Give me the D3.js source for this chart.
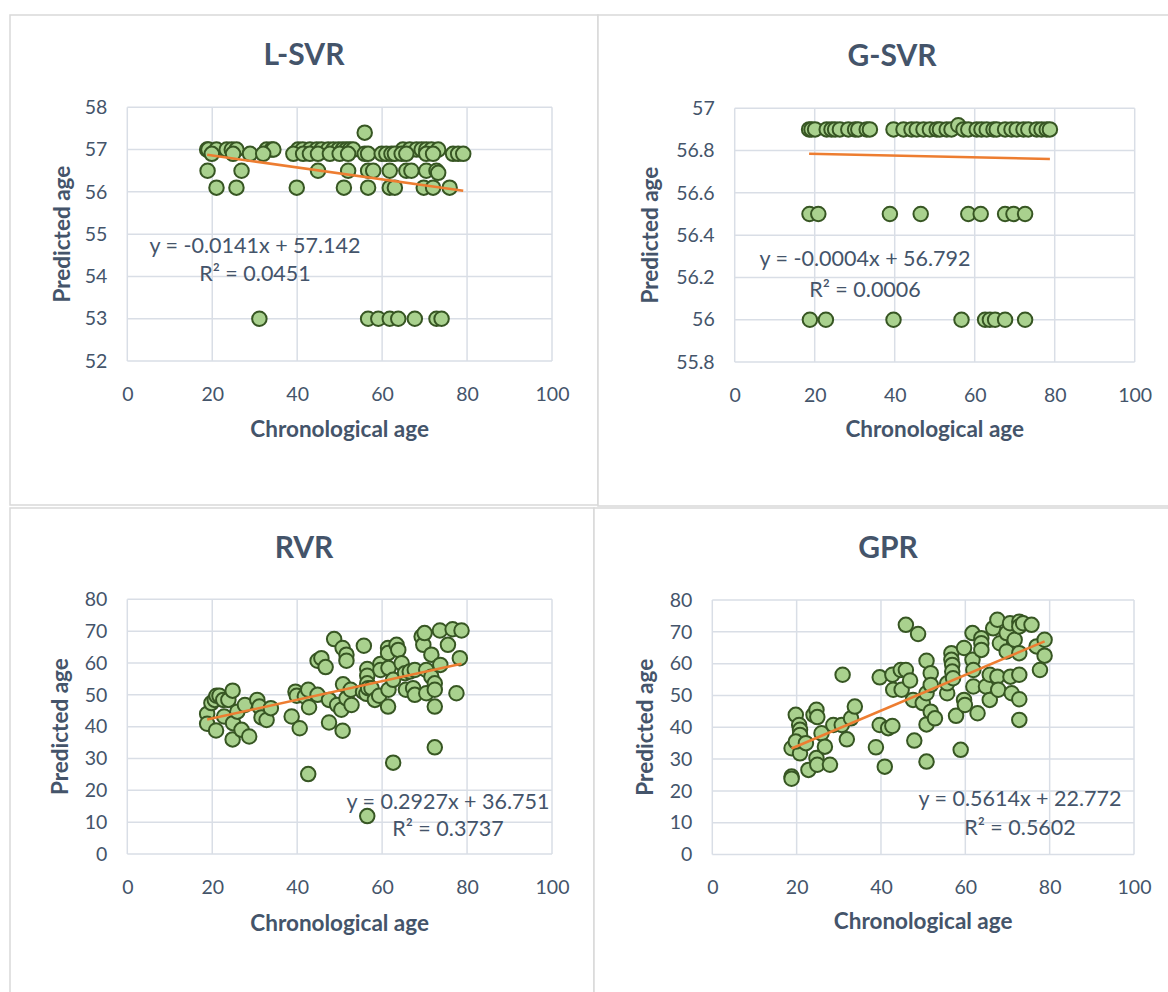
<!DOCTYPE html>
<html>
<head>
<meta charset="utf-8">
<script src="https://cdn.jsdelivr.net/npm/d3@7"></script>
<style>
  html, body { margin: 0; padding: 0; background: #ffffff; }
  svg { display: block; font-family: Lato, "Open Sans", sans-serif; }
</style>
</head>
<body>
<svg id="chart" width="1168" height="992"></svg>
<script>
// ---- data -------------------------------------------------------------
const xTicks = [0, 20, 40, 60, 80, 100];
const lsvrTicks = [52, 53, 54, 55, 56, 57, 58];
const gsvrTicks = [55.8, 56, 56.2, 56.4, 56.6, 56.8, 57];
const ageTicks = [0, 10, 20, 30, 40, 50, 60, 70, 80];

const modelNames = ["L-SVR", "G-SVR", "RVR", "GPR"];
const slopes = [-0.0141, -0.0004, 0.2927, 0.5614];
const intercepts = [57.142, 56.792, 36.751, 22.772];
const r2Values = ["0.0451", "0.0006", "0.3737", "0.5602"];

// L-SVR: chronological age / predicted age
const lsvrAge = [
  18.8, 19.1, 21.0, 23.4, 24.6, 25.7, 32.8, 34.0, 34.4, 40.2, 41.3, 43.0, 44.6, 45.7,
  47.3, 48.5, 49.7, 50.7, 51.6, 52.4, 53.2, 64.9, 66.5, 68.1, 69.3, 70.4, 71.6, 73.2,
  19.9, 24.9, 28.9, 32.0, 39.1, 41.4, 43.0, 44.9, 47.7, 50.0, 52.0, 55.9, 56.7, 59.9,
  61.0, 62.2, 63.0, 64.6, 65.7, 70.4, 72.0, 76.7, 77.9, 79.1,
  55.9,
  18.9, 26.9, 44.9, 52.0, 56.7, 57.9, 61.8, 65.7, 66.9, 70.4, 72.8, 73.2,
  21.0, 25.7, 39.9, 51.0, 56.7, 61.8, 63.0, 69.8, 72.0, 75.9,
  31.1, 56.7, 59.1, 61.8, 63.8, 67.7, 72.8, 74.0
];
const lsvrPred = [
  57.0, 57.0, 57.0, 57.0, 57.0, 57.0, 57.0, 57.0, 57.0, 57.0, 57.0, 57.0, 57.0, 57.0,
  57.0, 57.0, 57.0, 57.0, 57.0, 57.0, 57.0, 57.0, 57.0, 57.0, 57.0, 57.0, 57.0, 57.0,
  56.9, 56.9, 56.9, 56.9, 56.9, 56.9, 56.9, 56.9, 56.9, 56.9, 56.9, 56.9, 56.9, 56.9,
  56.9, 56.9, 56.9, 56.9, 56.9, 56.9, 56.9, 56.9, 56.9, 56.9,
  57.4,
  56.5, 56.5, 56.5, 56.5, 56.5, 56.5, 56.5, 56.5, 56.5, 56.5, 56.5, 56.45,
  56.1, 56.1, 56.1, 56.1, 56.1, 56.1, 56.1, 56.1, 56.1, 56.1,
  53.0, 53.0, 53.0, 53.0, 53.0, 53.0, 53.0, 53.0
];

// G-SVR
const gsvrAge = [
  18.6, 19.2, 20.1, 23.0, 24.2, 25.1, 26.3, 28.4, 30.1, 30.9, 33.0, 33.8, 39.7, 42.2,
  44.2, 45.5, 47.2, 48.8, 50.5, 51.3, 53.0, 54.2, 55.9, 57.2, 58.4, 60.5, 61.7, 63.0,
  64.7, 65.5, 67.6, 69.2, 70.5, 72.2, 73.4, 75.5, 76.7, 78.0, 78.8,
  18.7, 20.9, 38.8, 46.5, 58.4, 61.5, 67.6, 69.7, 72.6,
  18.8, 22.8, 39.7, 56.7, 62.6, 63.8, 65.1, 67.6, 72.6
];
const gsvrPred = [
  56.9, 56.9, 56.9, 56.9, 56.9, 56.9, 56.9, 56.9, 56.9, 56.9, 56.9, 56.9, 56.9, 56.9,
  56.9, 56.9, 56.9, 56.9, 56.9, 56.9, 56.9, 56.9, 56.92, 56.9, 56.9, 56.9, 56.9, 56.9,
  56.9, 56.9, 56.9, 56.9, 56.9, 56.9, 56.9, 56.9, 56.9, 56.9, 56.9,
  56.5, 56.5, 56.5, 56.5, 56.5, 56.5, 56.5, 56.5, 56.5,
  56.0, 56.0, 56.0, 56.0, 56.0, 56.0, 56.0, 56.0, 56.0
];

// RVR
const rvrAge = [
  18.8, 18.8, 19.8, 20.6, 21.0, 21.7, 22.6, 20.9, 22.8, 23.8, 24.8, 24.9, 24.8, 25.9,
  26.9, 27.7, 28.7, 30.6, 31.1, 31.6, 32.8, 33.8,
  38.7, 39.6, 39.9, 40.6, 41.8, 42.6, 42.8, 44.8, 44.8, 45.7, 46.7, 47.5, 47.5, 48.7,
  49.4, 50.4, 50.7, 50.7, 50.8, 51.6, 51.6, 51.6, 52.6, 52.8, 55.7, 55.5, 56.3, 56.5,
  56.5, 56.5, 56.7, 57.5, 58.3, 59.3, 59.6, 59.6, 61.4, 61.4, 61.5, 61.5, 61.4, 62.6,
  63.4, 63.8, 64.6, 65.4, 65.6, 66.5, 67.3, 67.7, 67.7, 69.3, 69.7, 70.0, 70.4, 70.4,
  71.6, 71.6, 72.4, 72.4, 72.4, 73.6, 73.7, 75.5, 76.6, 77.5, 78.3, 78.7,
  42.6, 62.6, 72.4, 56.5
];
const rvrPred = [
  44.0, 40.9, 47.4, 48.4, 49.7, 49.7, 48.4, 38.8, 43.2, 48.4, 51.3, 41.1, 36.0, 44.7,
  39.0, 46.8, 36.9, 48.4, 46.3, 42.9, 42.1, 45.8,
  43.2, 51.0, 49.7, 39.5, 49.5, 51.6, 46.1, 50.0, 60.7, 61.5, 58.7, 48.4, 41.3, 67.5,
  46.8, 45.3, 38.7, 64.7, 53.3, 62.6, 60.7, 48.9, 51.6, 46.8, 65.4, 51.0, 50.3, 58.1,
  56.0, 53.6, 52.1, 52.1, 48.4, 49.7, 59.7, 57.8, 64.7, 63.1, 58.4, 51.6, 46.3, 54.7,
  65.7, 64.1, 59.9, 56.8, 51.6, 57.3, 52.1, 57.8, 50.0, 68.3, 65.7, 69.4, 57.8, 50.5,
  62.6, 55.7, 53.6, 51.6, 46.3, 70.2, 59.4, 65.7, 70.6, 50.5, 61.5, 70.2,
  25.1, 28.7, 33.5, 11.9
];

// GPR
const gprAge = [
  18.8, 18.8, 18.8, 19.8, 20.6, 20.8, 20.8, 20.8, 19.8, 22.2, 22.8, 24.0, 24.7, 24.9,
  24.7, 24.9, 25.9, 26.7, 27.9, 28.7, 30.7, 31.9, 32.9, 33.8, 30.9,
  38.8, 39.7, 40.9, 41.7, 42.7, 39.7, 42.7, 42.9, 44.7, 44.9, 45.9, 45.9, 46.9, 47.6,
  47.9, 48.8, 49.9, 50.8, 50.8, 50.8, 50.8, 51.8, 51.8, 51.8, 52.8, 55.7, 55.7, 56.7,
  56.7, 56.9, 56.9, 57.1, 57.8, 58.9, 59.7, 59.7, 59.9, 61.7, 61.7, 61.9, 61.9, 62.9,
  63.8, 63.8, 63.8, 64.9, 65.8, 65.8, 66.6, 67.6, 67.6, 67.8, 68.2, 69.8, 69.8, 70.6,
  70.7, 71.0, 71.7, 72.8, 72.8, 72.8, 72.8, 72.8, 72.8, 73.7, 75.7, 76.9, 77.7, 78.8,
  78.8
];
const gprPred = [
  33.4, 24.5, 23.8, 43.9, 40.7, 39.2, 37.6, 31.8, 35.5, 35.0, 26.6, 43.9, 45.5, 43.2,
  30.3, 28.2, 38.1, 33.9, 28.2, 40.7, 40.7, 36.2, 42.8, 46.5, 56.5,
  33.7, 40.7, 27.6, 39.7, 40.4, 55.7, 56.5, 51.8, 58.0, 51.8, 72.2, 58.0, 54.7, 48.6,
  35.8, 69.3, 47.6, 60.9, 50.7, 40.9, 29.2, 57.0, 53.3, 44.9, 42.8, 50.7, 53.8, 63.3,
  61.2, 59.6, 57.5, 55.4, 43.6, 32.9, 64.9, 48.6, 47.0, 69.6, 61.2, 58.0, 52.8, 44.4,
  68.0, 66.4, 64.3, 52.8, 48.6, 56.5, 71.1, 73.8, 55.9, 51.8, 66.4, 69.6, 63.8, 72.7,
  55.9, 50.7, 67.5, 56.5, 73.2, 71.7, 63.3, 48.8, 42.3, 72.7, 72.2, 65.4, 58.0, 67.5,
  62.5
];

// ---- layout -----------------------------------------------------------
const textColor = "#44546A";
const gridColor = "#D9DEE6";
const frameColor = "#D9D9D9";
const markerFill = "#A9D18E";
const markerStroke = "#375623";
const trendColor = "#ED7D31";

const panels = [
  {
    name: modelNames[0], age: lsvrAge, pred: lsvrPred, yTicks: lsvrTicks,
    slope: slopes[0], intercept: intercepts[0], r2: r2Values[0],
    box: [10, 15, 588, 490],
    plot: { l: 127.3, r: 552, t: 107.3, b: 361 },
    titleY: 65, yTitleX: 62, xTitleY: 437,
    eq: { x: 255, y1: 245, y2: 273 }
  },
  {
    name: modelNames[1], age: gsvrAge, pred: gsvrPred, yTicks: gsvrTicks,
    slope: slopes[1], intercept: intercepts[1], r2: r2Values[1],
    box: [598, 15, 590, 491],
    plot: { l: 734.7, r: 1134.7, t: 108.3, b: 362 },
    titleY: 66, yTitleX: 650, xTitleY: 437,
    eq: { x: 865, y1: 258, y2: 289 }
  },
  {
    name: modelNames[2], age: rvrAge, pred: rvrPred, yTicks: ageTicks,
    slope: slopes[2], intercept: intercepts[2], r2: r2Values[2],
    box: [10, 508, 584, 500],
    plot: { l: 127.3, r: 552, t: 599.3, b: 854 },
    titleY: 558, yTitleX: 60, xTitleY: 931,
    eq: { x: 448, y1: 801, y2: 828 }
  },
  {
    name: modelNames[3], age: gprAge, pred: gprPred, yTicks: ageTicks,
    slope: slopes[3], intercept: intercepts[3], r2: r2Values[3],
    box: [594, 508, 590, 500],
    plot: { l: 712.3, r: 1134, t: 600, b: 854.5 },
    titleY: 558, yTitleX: 645, xTitleY: 929,
    eq: { x: 1020, y1: 798, y2: 827 }
  }
];

const svg = d3.select("#chart");
svg.append("rect").attr("width", 1168).attr("height", 992).attr("fill", "#ffffff");

const fmtTick = d => String(+d.toFixed(1));
const fmtCoef = v => (v < 0 ? "-" : "") + Math.abs(v).toFixed(4);

panels.forEach(p => {
  const g = svg.append("g");

  // chart frame
  g.append("rect")
    .attr("x", p.box[0]).attr("y", p.box[1])
    .attr("width", p.box[2]).attr("height", p.box[3])
    .attr("fill", "#ffffff").attr("stroke", frameColor).attr("stroke-width", 1.5);

  const x = d3.scaleLinear().domain([xTicks[0], xTicks[xTicks.length - 1]]).range([p.plot.l, p.plot.r]);
  const y = d3.scaleLinear().domain([p.yTicks[0], p.yTicks[p.yTicks.length - 1]]).range([p.plot.b, p.plot.t]);

  // gridlines
  g.append("g").selectAll("line").data(xTicks).join("line")
    .attr("x1", d => x(d)).attr("x2", d => x(d))
    .attr("y1", p.plot.t).attr("y2", p.plot.b)
    .attr("stroke", gridColor).attr("stroke-width", 1.5);
  g.append("g").selectAll("line").data(p.yTicks).join("line")
    .attr("x1", p.plot.l).attr("x2", p.plot.r)
    .attr("y1", d => y(d)).attr("y2", d => y(d))
    .attr("stroke", gridColor).attr("stroke-width", 1.5);

  // axes (labels only; gridlines serve as axis lines)
  const xAxis = g.append("g")
    .attr("transform", `translate(0,${p.plot.b})`)
    .call(d3.axisBottom(x).tickValues(xTicks).tickSize(0).tickPadding(26).tickFormat(fmtTick));
  const yAxis = g.append("g")
    .attr("transform", `translate(${p.plot.l},0)`)
    .call(d3.axisLeft(y).tickValues(p.yTicks).tickSize(0).tickPadding(20).tickFormat(fmtTick));
  [xAxis, yAxis].forEach(a => {
    a.select(".domain").remove();
    a.selectAll("text")
      .attr("fill", textColor)
      .style("font-family", "Lato, 'Open Sans', sans-serif")
      .style("font-size", "19.5px");
  });

  // chart title
  g.append("text")
    .attr("x", p.box[0] + 294).attr("y", p.titleY)
    .attr("text-anchor", "middle")
    .attr("fill", textColor)
    .style("font-size", "30px").style("font-weight", "bold")
    .text(p.name);

  // axis titles
  g.append("text")
    .attr("x", (p.plot.l + p.plot.r) / 2).attr("y", p.xTitleY)
    .attr("text-anchor", "middle")
    .attr("fill", textColor)
    .style("font-size", "22.5px").style("font-weight", "bold")
    .text("Chronological age");
  g.append("text")
    .attr("transform", `translate(${p.yTitleX},${(p.plot.t + p.plot.b) / 2}) rotate(-90)`)
    .attr("dy", "0.35em")
    .attr("text-anchor", "middle")
    .attr("fill", textColor)
    .style("font-size", "22.5px").style("font-weight", "bold")
    .text("Predicted age");

  // markers
  const pts = p.age.map((a, i) => ({ a, v: p.pred[i] }));
  g.append("g").selectAll("circle").data(pts).join("circle")
    .attr("cx", d => x(d.a)).attr("cy", d => y(d.v))
    .attr("r", 7.25)
    .attr("fill", markerFill)
    .attr("stroke", markerStroke).attr("stroke-width", 2);

  // linear trendline over the observed age range
  const [a0, a1] = d3.extent(p.age);
  g.append("line")
    .attr("x1", x(a0)).attr("y1", y(p.intercept + p.slope * a0))
    .attr("x2", x(a1)).attr("y2", y(p.intercept + p.slope * a1))
    .attr("stroke", trendColor).attr("stroke-width", 2.5);

  // trendline equation and R²
  g.append("text")
    .attr("x", p.eq.x).attr("y", p.eq.y1).attr("dy", "0.35em")
    .attr("text-anchor", "middle").attr("fill", textColor)
    .style("font-size", "21.5px")
    .text(`y = ${fmtCoef(p.slope)}x + ${p.intercept.toFixed(3)}`);
  g.append("text")
    .attr("x", p.eq.x).attr("y", p.eq.y2).attr("dy", "0.35em")
    .attr("text-anchor", "middle").attr("fill", textColor)
    .style("font-size", "21.5px")
    .text(`R² = ${p.r2}`);
});
</script>
</body>
</html>
